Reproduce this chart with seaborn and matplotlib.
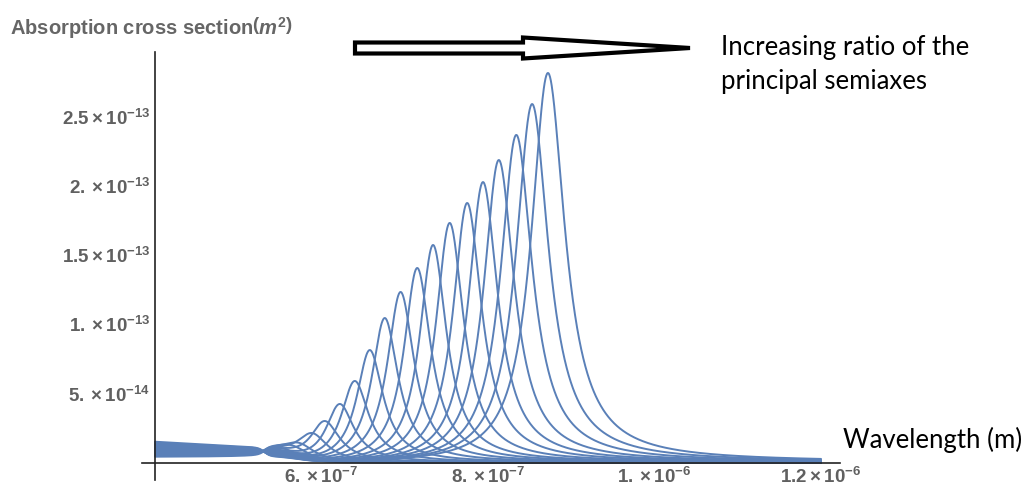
import numpy as np
import pandas as pd
import matplotlib
matplotlib.use("Agg")
import matplotlib.pyplot as plt
import seaborn as sns
from matplotlib.patches import Polygon
from matplotlib.ticker import FixedLocator, FixedFormatter

# ---------------- data ----------------
# resonance peak wavelength (nm) of each curve
peak_wavelength_nm = [554, 566, 574, 589, 604, 622, 640, 658, 676, 695,
                      715, 734, 754, 775, 794, 813, 834, 853, 872]
# peak height (units of 1e-14 m^2)
peak_height = [1.05, 1.25, 1.44, 2.16, 3.03, 4.26, 5.92, 8.15, 10.46, 12.34,
               14.07, 15.73, 17.32, 18.76, 20.27, 21.86, 23.67, 25.90, 28.14]
# full width of each resonance (eV)
peak_width_eV = [0.22, 0.20, 0.18, 0.16, 0.145, 0.13, 0.12, 0.11, 0.105, 0.10,
                 0.095, 0.09, 0.088, 0.086, 0.084, 0.083, 0.082, 0.081, 0.080]
# value at 400 nm (units of 1e-14 m^2)
level_400nm = [0.45, 0.50, 0.55, 0.61, 0.67, 0.73, 0.79, 0.85, 0.91, 0.97,
               1.03, 1.09, 1.15, 1.21, 1.27, 1.33, 1.39, 1.45, 1.52]

x_major = [6e-7, 8e-7, 1e-6, 1.2e-6]
x_major_labels = [r"$6.\times10^{-7}$", r"$8.\times10^{-7}$",
                  r"$1.\times10^{-6}$", r"$1.2\times10^{-6}$"]
x_minor = [4.5e-7, 5e-7, 5.5e-7, 6.5e-7, 7e-7, 7.5e-7, 8.5e-7, 9e-7, 9.5e-7,
           1.05e-6, 1.1e-6, 1.15e-6]
y_major = [5e-14, 1e-13, 1.5e-13, 2e-13, 2.5e-13]
y_major_labels = [r"$5.\times10^{-14}$", r"$1.\times10^{-13}$",
                  r"$1.5\times10^{-13}$", r"$2.\times10^{-13}$",
                  r"$2.5\times10^{-13}$"]
y_minor = [k * 1e-14 for k in range(1, 30)]

# ---------------- build curves ----------------
lam = np.linspace(400, 1200, 1601)          # nm
E = 1239.84 / lam                            # eV
center = 0.95 - 0.2 * (lam - 400) / 130
taper = np.clip(1 - 0.45 * (lam - 400) / 132, 0, None)
cut = 1 / (1 + np.exp((lam - 570) / 12))

rows = []
for i, (pw, ph, gw, l0) in enumerate(zip(peak_wavelength_nm, peak_height,
                                         peak_width_eV, level_400nm)):
    d = l0 - 0.95
    bg = np.clip((center + d * taper * np.tanh((532 - lam) / 7)) * cut, 0, None)
    E0 = 1239.84 / pw
    bg_at_peak = np.interp(pw, lam, bg)
    amp = max(ph - bg_at_peak, 0.25 * ph)
    lor = amp * (gw / 2) ** 2 / ((E - E0) ** 2 + (gw / 2) ** 2)
    sig = (bg + lor) * 1e-14
    rows.append(pd.DataFrame({"wavelength": lam * 1e-9, "sigma": sig, "curve": i}))
df = pd.concat(rows, ignore_index=True)

# ---------------- figure ----------------
sns.set_style("white")
plt.rcParams.update({
    "font.family": ["Liberation Sans", "DejaVu Sans"],
    "mathtext.fontset": "custom",
    "mathtext.rm": "Liberation Sans:bold",
    "mathtext.it": "Liberation Sans:bold:italic",
    "mathtext.bf": "Liberation Sans:bold",
    "mathtext.sf": "Liberation Sans:bold",
    "mathtext.default": "rm",
})

W, H = 1030, 486
fig = plt.figure(figsize=(W / 100, H / 100), dpi=100)
ax = fig.add_axes([0, 0, 1, 1])


def px_to_x(px):
    return 4e-7 + (px - 155) * 2e-7 / 166.5


def py_to_y(py):
    return (463 - py) * 5e-14 / 69.3


sns.lineplot(data=df, x="wavelength", y="sigma", units="curve", estimator=None,
             color="#5A80B8", lw=1.4, ax=ax, legend=False, sort=False)

ax.set_xlim(px_to_x(0), px_to_x(W))
ax.set_ylim(py_to_y(H), py_to_y(0))
ax.set_xlabel("")
ax.set_ylabel("")
ax.set_facecolor("white")

for s in ["top", "right"]:
    ax.spines[s].set_visible(False)
ax.spines["left"].set_position(("data", 4e-7))
ax.spines["bottom"].set_position(("data", 0))
ax.spines["left"].set_bounds(py_to_y(480), py_to_y(52))
ax.spines["bottom"].set_bounds(px_to_x(142), px_to_x(840))
for s in ["left", "bottom"]:
    ax.spines[s].set_color("#222222")
    ax.spines[s].set_linewidth(1.2)

ax.xaxis.set_major_locator(FixedLocator(x_major))
ax.xaxis.set_major_formatter(FixedFormatter(x_major_labels))
ax.xaxis.set_minor_locator(FixedLocator(x_minor))
ax.yaxis.set_major_locator(FixedLocator(y_major))
ax.yaxis.set_major_formatter(FixedFormatter(y_major_labels))
ax.yaxis.set_minor_locator(FixedLocator(y_minor))

ax.tick_params(which="both", direction="in", color="#333333", width=0.8,
               labelcolor="#606060", labelsize=13.5)
ax.tick_params(which="major", length=3.8)
ax.tick_params(which="minor", length=2.2)
ax.tick_params(axis="x", pad=3)
ax.tick_params(axis="y", pad=3.5)
ax.grid(False)

# title (Mathematica style axis label)
fig.text(10 / W, 1 - 28 / H, r"Absorption cross section$\left(\mathit{m}^{2}\right)$",
         fontsize=14.5, fontweight="bold", color="#666666", ha="left", va="center")

# annotations
ann_font = ["Lato", "DejaVu Sans"]
fig.text(721 / W, 1 - 47 / H, "Increasing ratio of the", fontsize=18.5,
         family=ann_font, color="black", ha="left", va="center")
fig.text(721 / W, 1 - 82 / H, "principal semiaxes", fontsize=18.5,
         family=ann_font, color="black", ha="left", va="center")
fig.text(843 / W, 1 - 440 / H, "Wavelength (m)", fontsize=18.5,
         family=ann_font, color="black", ha="left", va="center")

# outlined arrow
arrow_px = [(355, 42.5), (523, 42.5), (523, 37.5), (690, 48), (523, 58.5),
            (523, 53.5), (355, 53.5)]
arrow_pts = [(x / W, 1 - y / H) for x, y in arrow_px]
fig.patches.append(Polygon(arrow_pts, closed=True, transform=fig.transFigure,
                           facecolor="white", edgecolor="black", lw=3.0,
                           joinstyle="miter", figure=fig))

fig.savefig("out.png", dpi=100, facecolor="white")
